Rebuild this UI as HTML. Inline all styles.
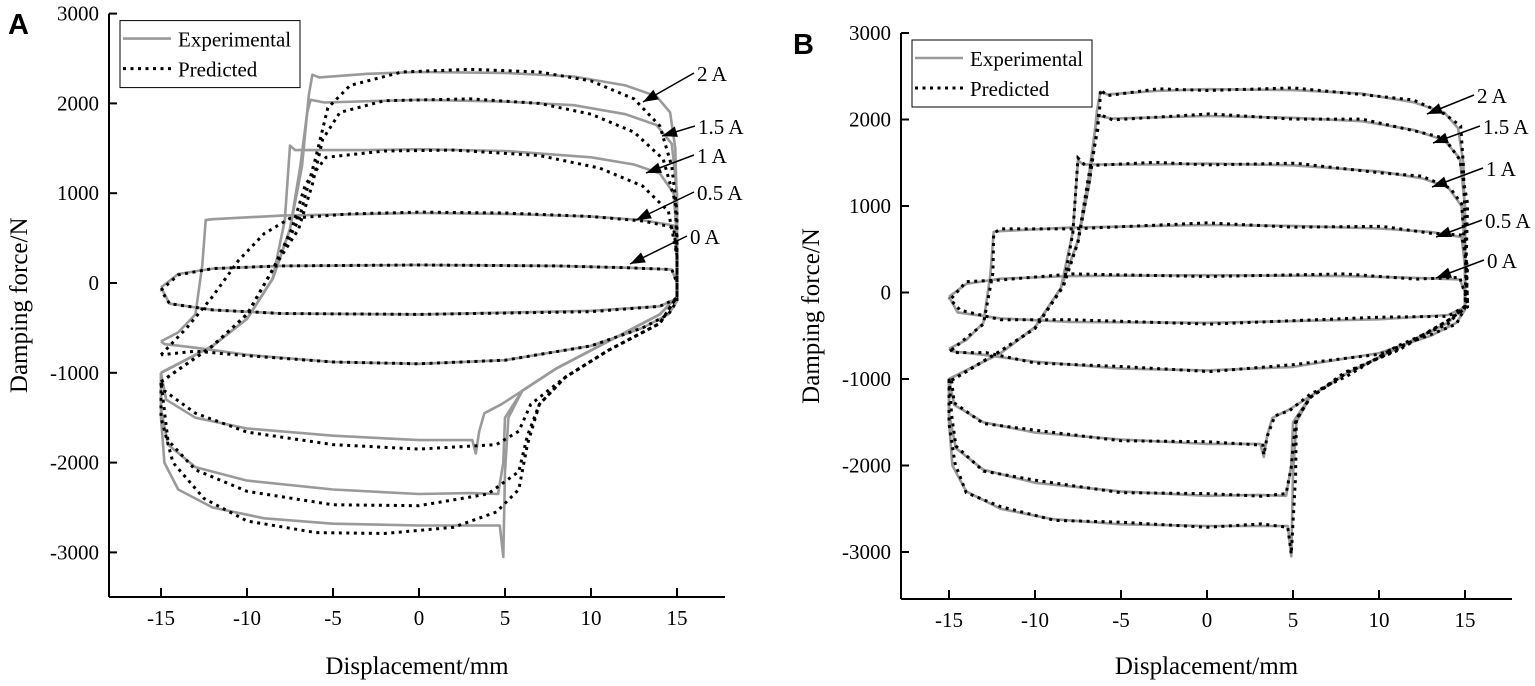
<!DOCTYPE html>
<html><head><meta charset="utf-8"><style>
body{margin:0;background:#fff}
svg{display:block}
text{font-family:"Liberation Serif",serif;fill:#000}
</style></head><body>
<svg id="s" width="1535" height="686" xmlns="http://www.w3.org/2000/svg">
<text x="8" y="34" style="font-family:'Liberation Sans',sans-serif;font-weight:bold;font-size:29px">A</text>
<text x="793" y="54" style="font-family:'Liberation Sans',sans-serif;font-weight:bold;font-size:29px">B</text>
<g id="g"></g>
</svg>
<script>
var NS="http://www.w3.org/2000/svg",G=document.getElementById('g');
function el(t,a,txt){var e=document.createElementNS(NS,t);for(var k in a)e.setAttribute(k,a[k]);if(txt!=null)e.textContent=txt;G.appendChild(e);return e;}
var EXP={
 i2:[[-15,-1000],[-12,-700],[-10,-400],[-8.5,50],[-7.5,600],[-6.8,1300],[-6.4,2100],[-6.2,2320],[-5.8,2290],[-3,2330],[0,2350],[5,2340],[9,2300],[12,2200],[13.8,2080],[14.6,1900],[14.9,1500],[15,800],[15,-150],[14,-350],[11,-650],[8,-950],[6,-1200],[5.2,-1500],[5,-2100],[4.9,-3050],[4.7,-2700],[3,-2700],[0,-2700],[-5,-2680],[-9,-2620],[-12,-2500],[-14,-2300],[-14.8,-2000],[-15,-1500],[-15,-1000]],
 i15:[[-15,-1000],[-12,-700],[-10,-400],[-8.5,50],[-7.5,600],[-6.9,1300],[-6.5,1900],[-6.3,2040],[-5.5,2010],[0,2040],[5,2020],[9,1980],[12,1880],[13.8,1760],[14.7,1550],[15,1000],[15,-150],[14,-350],[11,-650],[8,-950],[6,-1200],[5,-1500],[4.9,-2000],[4.6,-2350],[3,-2340],[0,-2350],[-5,-2300],[-10,-2200],[-13,-2050],[-14.6,-1800],[-15,-1400],[-15,-1000]],
 i1:[[-15,-1000],[-12,-700],[-10,-400],[-8.5,50],[-7.8,700],[-7.5,1530],[-7.2,1480],[-3,1480],[0,1490],[5,1470],[10,1400],[12.5,1320],[14,1220],[14.8,1000],[15,500],[15,-150],[14,-350],[11,-650],[8,-950],[6,-1200],[4.8,-1350],[3.8,-1450],[3.5,-1650],[3.3,-1900],[3.1,-1750],[0,-1750],[-5,-1700],[-10,-1620],[-13,-1500],[-14.7,-1300],[-15,-1000]],
 i05:[[-15,-650],[-14,-550],[-13,-350],[-12.6,200],[-12.4,700],[-12,710],[-8,750],[0,780],[5,770],[10,740],[13,700],[14.8,640],[15,300],[15,-200],[14.5,-350],[13,-500],[10,-700],[5,-860],[0,-900],[-5,-880],[-10,-800],[-13,-720],[-14.8,-680],[-15,-650]],
 i0:[[-15,-50],[-14,100],[-12,160],[-8,190],[0,200],[8,190],[12,170],[14.7,150],[15,0],[15,-170],[14,-260],[10,-310],[0,-350],[-8,-340],[-12,-300],[-14.5,-230],[-15,-50]]
};
var PRA={
 i2:[[-15,-1100],[-12,-700],[-10,-350],[-8.5,150],[-7,700],[-6,1400],[-5.3,1950],[-4,2200],[-1,2350],[3,2380],[7,2350],[10,2250],[12.5,2050],[14,1750],[14.7,1300],[15,800],[15,-150],[14,-450],[11,-750],[8.5,-1050],[7,-1350],[6.3,-1800],[5.8,-2300],[4.5,-2550],[2,-2720],[-2,-2790],[-6,-2780],[-10,-2650],[-12.5,-2400],[-14.3,-2000],[-15,-1500],[-15,-1100]],
 i15:[[-15,-1100],[-12,-700],[-10,-350],[-8.5,150],[-7,600],[-6.2,1100],[-5.6,1600],[-4.6,1900],[-2,2030],[3,2050],[7,2000],[10,1880],[12.5,1680],[14.2,1380],[14.9,900],[15,400],[15,-150],[14,-450],[11,-750],[8.5,-1050],[7,-1350],[6.3,-1700],[5.8,-2100],[4,-2350],[0,-2480],[-5,-2470],[-10,-2320],[-13,-2080],[-14.6,-1750],[-15,-1100]],
 i1:[[-15,-1100],[-12,-700],[-10,-350],[-8.5,150],[-7.4,600],[-6.6,1100],[-5.4,1400],[-2,1470],[2,1480],[7,1420],[10.5,1280],[13,1080],[14.5,800],[15,300],[15,-150],[14,-450],[11,-750],[8.5,-1050],[6.5,-1350],[5.8,-1650],[4.5,-1800],[0,-1850],[-5,-1800],[-10,-1660],[-13,-1450],[-14.8,-1200],[-15,-1100]],
 i05:[[-15,-800],[-13.5,-500],[-12,-150],[-10.5,250],[-9,550],[-7.5,720],[-4,770],[0,790],[5,780],[10,740],[13,690],[14.8,620],[15,300],[15,-200],[14.5,-350],[13,-500],[10,-700],[5,-860],[0,-900],[-5,-880],[-10,-810],[-13,-760],[-15,-800]],
 i0:[[-15,-80],[-14,90],[-12,160],[-8,190],[0,200],[8,190],[12,170],[14.7,150],[15,0],[15,-170],[14,-260],[10,-320],[0,-350],[-8,-340],[-12,-300],[-14.5,-230],[-15,-80]]
};
function path(pts,X,Y){return pts.map(function(p,i){return (i?'L':'M')+X(p[0]).toFixed(1)+' '+Y(p[1]).toFixed(1);}).join(' ');}
function panel(o){
 var X=function(d){return o.x0+d*o.sx},Y=function(f){return o.y0-f*o.sy};
 el('line',{x1:o.ax,y1:Y(3000),x2:o.ax,y2:o.bot,stroke:'#000','stroke-width':2});
 el('line',{x1:o.ax,y1:o.bot,x2:o.right,y2:o.bot,stroke:'#000','stroke-width':2});
 for(var f=-3000;f<=3000;f+=1000){el('line',{x1:o.ax,y1:Y(f),x2:o.ax+8,y2:Y(f),stroke:'#000','stroke-width':2});
  el('text',{x:o.ax-10,y:Y(f)+7,'text-anchor':'end','font-size':'21px'},f);}
 for(var d=-15;d<=15;d+=5){el('line',{x1:X(d),y1:o.bot,x2:X(d),y2:o.bot-9,stroke:'#000','stroke-width':2});
  el('text',{x:X(d),y:o.bot+28,'text-anchor':'middle','font-size':'21px'},d);}
 el('text',{x:(o.ax+o.right)/2,y:674,'text-anchor':'middle','font-size':'25px'},'Displacement/mm');
 el('text',{x:0,y:0,'text-anchor':'middle','font-size':'25px',transform:'translate('+(o.ax-82)+','+((Y(3000)+o.bot)/2)+') rotate(-90)'},'Damping force/N');
 var keys=['i0','i05','i1','i15','i2'];
 keys.forEach(function(k){el('path',{d:path(EXP[k],X,Y),fill:'none',stroke:'#9a9a9a','stroke-width':2.6,'stroke-linejoin':'round'});});
 keys.forEach(function(k){el('path',{d:path(o.pred[k],X,Y),fill:'none',stroke:'#000','stroke-width':3,'stroke-dasharray':'3 4.5'});});
 el('rect',{x:o.ax+11,y:Y(3000)+7,width:180,height:67,fill:'#fff',stroke:'#000','stroke-width':1});
 var ly=Y(3000)+7;
 el('line',{x1:o.ax+14,y1:ly+18,x2:o.ax+62,y2:ly+18,stroke:'#9a9a9a','stroke-width':2.6});
 el('line',{x1:o.ax+14,y1:ly+48,x2:o.ax+62,y2:ly+48,stroke:'#000','stroke-width':3,'stroke-dasharray':'3 4.5'});
 el('text',{x:o.ax+69,y:ly+26,'font-size':'21px'},'Experimental');
 el('text',{x:o.ax+69,y:ly+56,'font-size':'21px'},'Predicted');
 o.ann.forEach(function(a){
  var tx=a[0],ty=a[1],hx=a[2],hy=a[3];
  el('line',{x1:tx-3,y1:ty-8,x2:hx,y2:hy,stroke:'#000','stroke-width':1.5});
  var ang=Math.atan2(hy-(ty-8),hx-(tx-3)),L=15,W=5.5;
  var bx=hx-L*Math.cos(ang),by=hy-L*Math.sin(ang);
  el('polygon',{points:hx+','+hy+' '+(bx+W*Math.sin(ang))+','+(by-W*Math.cos(ang))+' '+(bx-W*Math.sin(ang))+','+(by+W*Math.cos(ang)),fill:'#000'});
  el('text',{x:tx,y:ty,'font-size':'21px'},a[4]);
 });
}
function shift(src){var r={};for(var k in src)r[k]=src[k].map(function(p,i){return [p[0]+(i%3==0?0.15:0),p[1]+(i%2?25:-15)];});return r;}
panel({x0:419,sx:17.2,y0:283,sy:0.0898,ax:109,bot:597,right:725,pred:PRA,
 ann:[[697,81,643,102,'2 A'],[698,134,662,136,'1.5 A'],[697,163,646,173,'1 A'],[697,200,636,220,'0.5 A'],[690,244,630,264,'0 A']]});
panel({x0:1207,sx:17.2,y0:292.5,sy:0.0865,ax:901,bot:599,right:1512,pred:shift(EXP),
 ann:[[1477,103,1427,114,'2 A'],[1483,134,1433,143,'1.5 A'],[1486,176,1432,187,'1 A'],[1485,228,1436,237,'0.5 A'],[1487,268,1436,278,'0 A']]});
</script>
</body></html>
